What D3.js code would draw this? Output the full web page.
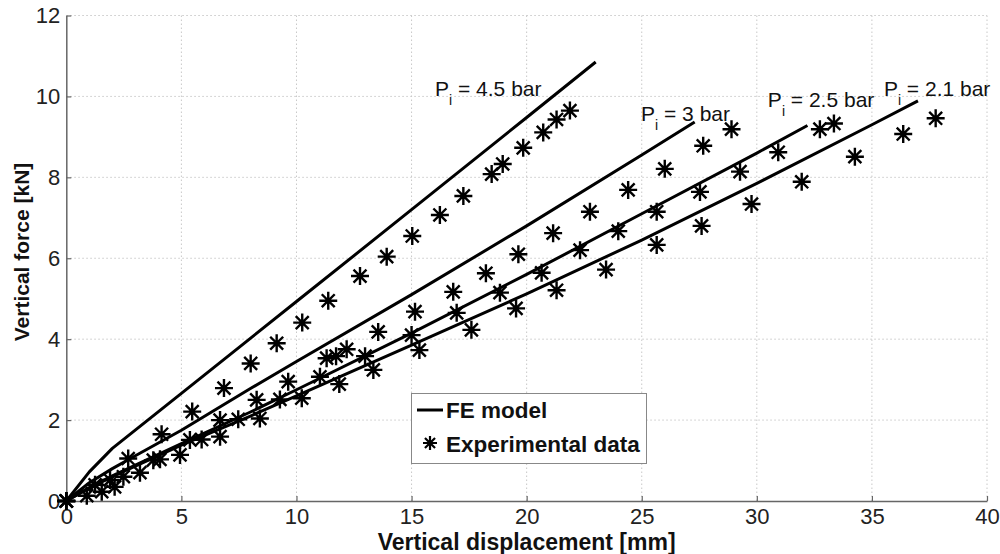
<!DOCTYPE html>
<html>
<head>
<meta charset="utf-8">
<script src="https://cdn.jsdelivr.net/npm/d3@7"></script>
<style>
  html, body { margin: 0; padding: 0; background: #fff; }
  svg { display: block; font-family: "Liberation Sans", Arial, Helvetica, sans-serif; }
</style>
</head>
<body>
<svg id="chart" width="1000" height="554"></svg>
<script>
// ---------- data ----------
const xTicks = [0, 5, 10, 15, 20, 25, 30, 35, 40];
const yTicks = [0, 2, 4, 6, 8, 10, 12];

// FE model curves
const fe45X = [0, 1, 2, 5, 10, 15, 20, 23];
const fe45Y = [0, 0.72, 1.3, 2.66, 4.93, 7.2, 9.48, 10.85];
const fe3X  = [0, 1, 2, 3, 5, 8, 10, 15, 20, 25, 27.3];
const fe3Y  = [0, 0.45, 0.8, 1.12, 1.75, 2.78, 3.45, 5.1, 6.8, 8.55, 9.37];
const fe25X = [0, 1, 2, 5, 8, 10, 15, 20, 25, 30, 32.2];
const fe25Y = [0, 0.33, 0.62, 1.42, 2.2, 2.75, 4.15, 5.6, 7.1, 8.6, 9.28];
const fe21X = [0, 1, 2, 5, 8, 10, 15, 20, 25, 30, 35, 37];
const fe21Y = [0, 0.32, 0.6, 1.38, 2.1, 2.6, 3.85, 5.12, 6.45, 7.85, 9.3, 9.89];

// Experimental data
const ex45X = [0, 4.14, 5.47, 6.85, 8.01, 9.14, 10.25, 11.38, 12.76, 13.92, 15.03, 16.23, 17.25, 18.48, 18.96, 19.85, 20.72, 21.3, 21.88];
const ex45Y = [0, 1.65, 2.21, 2.79, 3.40, 3.90, 4.41, 4.95, 5.56, 6.04, 6.55, 7.07, 7.54, 8.08, 8.33, 8.73, 9.11, 9.43, 9.65];
const ex3X  = [0, 1.25, 2.69, 6.68, 8.27, 9.64, 11.31, 11.72, 12.18, 13.55, 15.15, 16.81, 18.23, 19.64, 21.15, 22.75, 24.41, 26.0, 27.67, 28.9];
const ex3Y  = [0, 0.40, 1.05, 2.0, 2.50, 2.95, 3.53, 3.58, 3.75, 4.18, 4.68, 5.17, 5.63, 6.10, 6.62, 7.15, 7.69, 8.21, 8.78, 9.19];
const ex25X = [0, 1.9, 2.48, 3.78, 5.37, 5.88, 7.47, 9.28, 11.02, 12.98, 15.0, 16.96, 18.84, 20.65, 22.32, 23.98, 25.65, 27.53, 29.27, 30.93, 32.74, 33.35];
const ex25Y = [0, 0.52, 0.6, 1.01, 1.51, 1.52, 2.02, 2.51, 3.07, 3.58, 4.10, 4.65, 5.15, 5.64, 6.20, 6.67, 7.15, 7.64, 8.14, 8.62, 9.19, 9.33];
const ex21X = [0, 0.89, 1.54, 2.1, 3.2, 4.07, 4.94, 6.68, 8.41, 10.23, 11.86, 13.34, 15.34, 17.6, 19.54, 21.3, 23.45, 25.65, 27.6, 29.77, 31.95, 34.26, 36.36, 37.77];
const ex21Y = [0, 0.13, 0.23, 0.35, 0.70, 1.03, 1.14, 1.59, 2.04, 2.54, 2.89, 3.24, 3.73, 4.23, 4.76, 5.21, 5.72, 6.33, 6.80, 7.34, 7.89, 8.51, 9.07, 9.46];

// Curve labels (pressure values and anchor in data units)
const labelText = ["4.5 bar", "3 bar", "2.5 bar", "2.1 bar"];
const labelX = [16.02, 24.97, 30.48, 35.52];
const labelY = [10.01, 9.39, 9.74, 10.01];

const xTitle = "Vertical displacement [mm]";
const yTitle = "Vertical force [kN]";
const legendNames = ["FE model", "Experimental data"];

// ---------- layout ----------
const svg = d3.select("#chart");
const L = 66.3, R = 987, T = 15.5, B = 501;
const x = d3.scaleLinear().domain([0, 40]).range([L, R]);
const y = d3.scaleLinear().domain([0, 12]).range([B, T]);

// grid
const grid = svg.append("g").attr("stroke", "#c8c8c8").attr("stroke-width", 1)
  .attr("stroke-dasharray", "1.5,2.5");
grid.selectAll("line.v").data(xTicks.filter(d => d > 0)).join("line")
  .attr("x1", d => x(d)).attr("x2", d => x(d)).attr("y1", B).attr("y2", T);
grid.selectAll("line.h").data(yTicks.filter(d => d > 0)).join("line")
  .attr("y1", d => y(d)).attr("y2", d => y(d)).attr("x1", L).attr("x2", R);

// axes
const xAxis = d3.axisBottom(x).tickValues(xTicks).tickSizeInner(-5).tickSizeOuter(0).tickPadding(7);
const yAxis = d3.axisLeft(y).tickValues(yTicks).tickSizeInner(-5).tickSizeOuter(0).tickPadding(6);
const gx = svg.append("g").attr("transform", `translate(0,${B})`).call(xAxis);
const gy = svg.append("g").attr("transform", `translate(${L},0)`).call(yAxis);
[gx, gy].forEach(g => {
  g.select(".domain").attr("stroke", "#666").attr("stroke-width", 1.5);
  g.selectAll(".tick line").attr("stroke", "#666").attr("stroke-width", 1.2);
  g.selectAll(".tick text").attr("font-size", 22).attr("fill", "#222")
    .attr("font-family", "Liberation Sans, Arial, sans-serif");
});
gx.selectAll(".tick text").attr("dy", "0.71em");

// FE lines
const lineGen = d3.line().x(d => x(d[0])).y(d => y(d[1]));
const feSets = [[fe45X, fe45Y], [fe3X, fe3Y], [fe25X, fe25Y], [fe21X, fe21Y]];
svg.append("g").selectAll("path").data(feSets).join("path")
  .attr("d", s => lineGen(s[0].map((v, i) => [v, s[1][i]])))
  .attr("fill", "none").attr("stroke", "#000").attr("stroke-width", 3)
  .attr("stroke-linejoin", "round").attr("stroke-linecap", "butt");

// asterisk marker
function asterisk(g, cx, cy, r, w) {
  const d = r * 0.72;
  const p = `M${cx - r},${cy}L${cx + r},${cy}M${cx},${cy - r}L${cx},${cy + r}` +
            `M${cx - d},${cy - d}L${cx + d},${cy + d}M${cx - d},${cy + d}L${cx + d},${cy - d}`;
  g.append("path").attr("d", p).attr("stroke", "#000").attr("stroke-width", w).attr("fill", "none");
}
const exSets = [[ex45X, ex45Y], [ex3X, ex3Y], [ex25X, ex25Y], [ex21X, ex21Y]];
const mg = svg.append("g");
exSets.forEach(s => s[0].forEach((v, i) => asterisk(mg, x(v), y(s[1][i]), 9, 2.4)));

// curve labels
const lg = svg.append("g").attr("font-size", 21).attr("fill", "#111");
labelText.forEach((t, i) => {
  const tx = lg.append("text").attr("x", x(labelX[i])).attr("y", y(labelY[i]));
  tx.append("tspan").text("P");
  tx.append("tspan").attr("font-size", 14).attr("dy", 9).text("i");
  tx.append("tspan").attr("dy", -9).text(" = " + t);
});

// axis titles
svg.append("text").attr("x", (L + R) / 2).attr("y", 550).attr("text-anchor", "middle")
  .attr("font-size", 23).attr("font-weight", "bold").attr("fill", "#111").text(xTitle);
svg.append("text").attr("transform", `translate(29,252) rotate(-90)`)
  .attr("text-anchor", "middle").attr("font-size", 21).attr("font-weight", "bold")
  .attr("fill", "#111").text(yTitle);

// legend
const leg = svg.append("g");
leg.append("rect").attr("x", 411.5).attr("y", 393.5).attr("width", 235).attr("height", 70)
  .attr("fill", "#fff").attr("stroke", "#888").attr("stroke-width", 1);
leg.append("line").attr("x1", 417).attr("x2", 443).attr("y1", 410).attr("y2", 410)
  .attr("stroke", "#000").attr("stroke-width", 3);
asterisk(leg, 430, 443, 7, 2.2);
leg.selectAll("text").data(legendNames).join("text")
  .attr("x", 446).attr("y", (d, i) => 418 + i * 34)
  .attr("font-size", 22.5).attr("font-weight", "bold").attr("fill", "#111").text(d => d);
</script>
</body>
</html>
